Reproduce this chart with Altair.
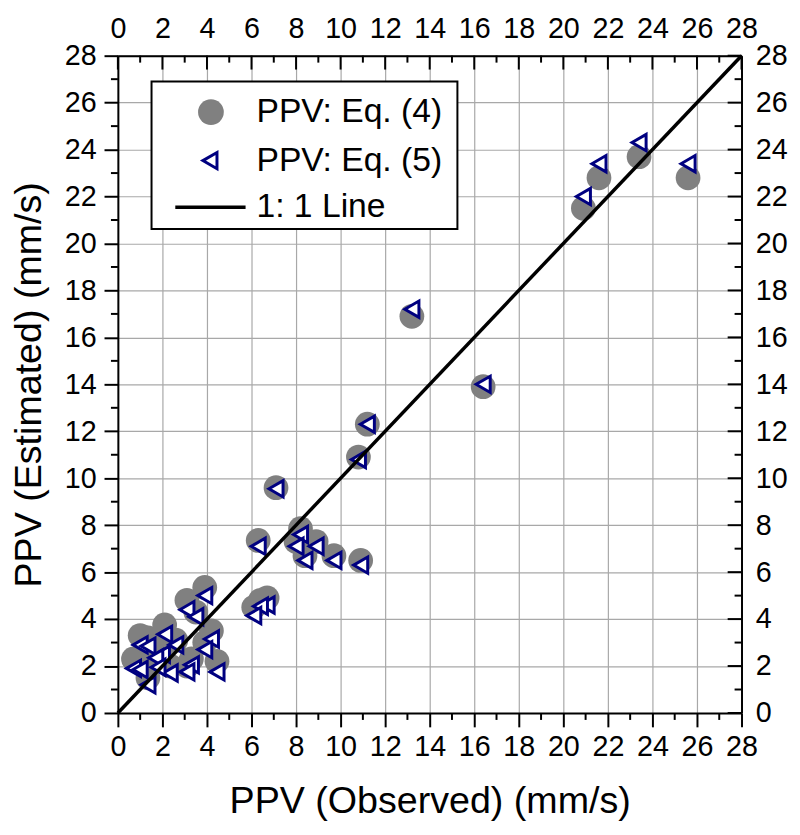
import altair as alt
import pandas as pd

S4 = "PPV: Eq. (4)"
S5 = "PPV: Eq. (5)"
SL = "1: 1 Line"

observed = [25.6, 23.4, 21.6, 20.9, 16.4, 13.2, 11.2, 10.8, 7.1, 6.3,
            8.2, 8.0, 8.9, 8.4, 9.7, 10.9, 6.7, 6.4, 6.1, 3.9,
            3.1, 3.5, 4.2, 3.9, 2.1, 1.0, 1.35, 2.6, 2.0, 1.7,
            3.3, 3.1, 2.35, 0.7, 1.0, 1.8, 1.35, 4.45]
eq4 = [22.8, 23.7, 22.8, 21.5, 13.9, 16.9, 12.3, 10.9, 9.6, 7.35,
       7.85, 7.3, 7.3, 6.7, 6.7, 6.5, 4.9, 4.8, 4.5, 5.35,
       4.8, 4.3, 3.5, 3.0, 3.75, 3.3, 3.2, 3.1, 2.8, 2.5,
       2.3, 2.0, 2.0, 2.3, 2.2, 2.2, 1.5, 2.2]
eq5 = [23.4, 24.3, 23.4, 22.0, 14.0, 17.2, 12.3, 10.8, 9.55, 7.1,
       7.6, 7.1, 7.1, 6.5, 6.5, 6.3, 4.6, 4.55, 4.15, 5.0,
       4.4, 4.1, 3.15, 2.7, 3.35, 2.9, 2.85, 2.9, 2.5, 2.35,
       2.05, 1.75, 1.7, 1.9, 1.85, 1.95, 1.2, 1.75]
line_x = [0, 28]
line_y = [0, 28]
major_ticks = list(range(0, 29, 2))
minor_ticks = list(range(1, 28, 2))

df4 = pd.DataFrame({"obs": observed, "est": eq4})
df5 = pd.DataFrame({"obs": observed, "est": eq5})
dfl = pd.DataFrame({"obs": line_x, "est": line_y})
dmaj = pd.DataFrame({"v": major_ticks})
dmin = pd.DataFrame({"v": minor_ticks})

FONT = "Liberation Sans"
W, H = 630, 664
GREY = "#808080"
NAVY = "#000080"
TRI_SIZE = 270
TRI_STROKE = 3


def sc():
    return alt.Scale(domain=[0, 28], nice=False, zero=False)


common_axis = dict(values=major_ticks, labelFont=FONT, labelFontSize=29,
                   labelColor="black", domainColor="black", domainWidth=2,
                   tickColor="black", tickWidth=2, labelFlush=False,
                   labelOverlap=False, format="d")

x_bottom = alt.Axis(orient="bottom", title="PPV (Observed) (mm/s)", tickSize=14,
                    labelPadding=6, grid=True, gridColor="#a8a8a8", gridWidth=1.2,
                    titleFont=FONT, titleFontSize=38, titleFontWeight="normal",
                    titlePadding=22, titleColor="black", **common_axis)
y_left = alt.Axis(orient="left", title="PPV (Estimated) (mm/s)", tickSize=14,
                  labelPadding=8, grid=True, gridColor="#a8a8a8", gridWidth=1.2,
                  titleFont=FONT, titleFontSize=38, titleFontWeight="normal",
                  titlePadding=16, titleColor="black", **common_axis)
x_top = alt.Axis(orient="top", title=None, tickSize=0, labelPadding=12,
                 grid=False, **common_axis)
y_right = alt.Axis(orient="right", title=None, tickSize=0, labelPadding=14,
                   grid=False, **common_axis)

circles = alt.Chart(df4).mark_point(
    shape="circle", filled=True, color=GREY, opacity=1, size=625, strokeWidth=0
).encode(
    x=alt.X("obs:Q", scale=sc(), axis=x_bottom),
    y=alt.Y("est:Q", scale=sc(), axis=y_left),
)
triangles = alt.Chart(df5).mark_point(
    shape="triangle-left", fill="white", fillOpacity=1, stroke=NAVY,
    strokeWidth=TRI_STROKE, opacity=1, size=TRI_SIZE
).encode(
    x=alt.X("obs:Q", scale=sc(), axis=x_top),
    y=alt.Y("est:Q", scale=sc(), axis=y_right),
)
line = alt.Chart(dfl).mark_line(color="black", strokeWidth=3.5).encode(
    x=alt.X("obs:Q", scale=sc(), axis=None),
    y=alt.Y("est:Q", scale=sc(), axis=None),
)

rule_kw = dict(color="black", strokeWidth=2)
bottom_minor = alt.Chart(dmin).mark_rule(**rule_kw).encode(
    x=alt.X("v:Q", scale=sc(), axis=None), y=alt.value(H), y2=alt.value(H + 7))
left_minor = alt.Chart(dmin).mark_rule(**rule_kw).encode(
    y=alt.Y("v:Q", scale=sc(), axis=None), x=alt.value(0), x2=alt.value(-7))
top_major = alt.Chart(dmaj).mark_rule(**rule_kw).encode(
    x=alt.X("v:Q", scale=sc(), axis=None), y=alt.value(0), y2=alt.value(14))
top_minor = alt.Chart(dmin).mark_rule(**rule_kw).encode(
    x=alt.X("v:Q", scale=sc(), axis=None), y=alt.value(0), y2=alt.value(7))
right_major = alt.Chart(dmaj).mark_rule(**rule_kw).encode(
    y=alt.Y("v:Q", scale=sc(), axis=None), x=alt.value(W), x2=alt.value(W - 14))
right_minor = alt.Chart(dmin).mark_rule(**rule_kw).encode(
    y=alt.Y("v:Q", scale=sc(), axis=None), x=alt.value(W), x2=alt.value(W - 7))

# legend (boxed key)
LEG_FS = 34
ROW_Y = [57, 106, 153]
labels = [S4, S5, SL]


def one(label):
    return pd.DataFrame({"label": [label]})


leg_box = alt.Chart(one("box")).mark_rect(
    fill="white", stroke="black", strokeWidth=2
).encode(x=alt.value(34), x2=alt.value(343), y=alt.value(26), y2=alt.value(175))
leg_circle = alt.Chart(one(S4)).mark_point(
    shape="circle", filled=True, color=GREY, opacity=1, size=676, strokeWidth=0
).encode(x=alt.value(94), y=alt.value(ROW_Y[0]))
leg_tri = alt.Chart(one(S5)).mark_point(
    shape="triangle-left", fill="white", fillOpacity=1, stroke=NAVY,
    strokeWidth=TRI_STROKE, opacity=1, size=TRI_SIZE
).encode(x=alt.value(93), y=alt.value(ROW_Y[1]))
leg_line = alt.Chart(one(SL)).mark_rule(color="black", strokeWidth=3.5).encode(
    x=alt.value(58), x2=alt.value(129), y=alt.value(ROW_Y[2]))
leg_texts = [
    alt.Chart(one(lab)).mark_text(
        align="left", baseline="middle", font=FONT, fontSize=LEG_FS, color="black"
    ).encode(x=alt.value(140), y=alt.value(yy), text="label:N")
    for lab, yy in zip(labels, ROW_Y)
]

chart = alt.layer(
    circles, triangles, line,
    bottom_minor, left_minor, top_major, top_minor, right_major, right_minor,
    leg_box, leg_circle, leg_tri, leg_line, *leg_texts,
).resolve_axis(x="independent", y="independent").properties(
    width=W, height=H,
    autosize=alt.AutoSizeParams(type="none"),
    padding={"left": 111, "top": 44, "right": 51, "bottom": 111},
    background="white",
).configure_view(stroke=None)

chart.save("out.html", embed_options={"renderer": "svg", "actions": False})
